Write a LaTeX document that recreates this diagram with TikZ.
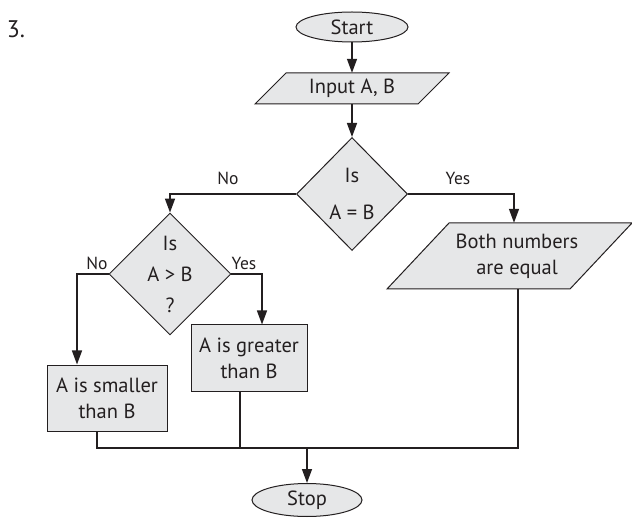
\documentclass[tikz,border=0pt]{standalone}
\usepackage{fontspec}
\setmainfont{PT Sans}
\usetikzlibrary{shapes.geometric,arrows.meta,calc,backgrounds}
\definecolor{boxfill}{HTML}{E6E7E8}
\definecolor{ink}{HTML}{231F20}
\tikzset{
  base/.style={draw=ink, fill=boxfill, line width=1pt, inner sep=0pt, text=ink,
    font=\fontsize{20.5}{26}\selectfont, align=center},
  term/.style={base, ellipse, minimum width=112pt, minimum height=30pt},
  proc/.style={base, rectangle, minimum height=66pt},
  decide/.style={base, diamond, minimum width=111pt, minimum height=113pt},
  iotext/.style={inner sep=0pt, text=ink, font=\fontsize{20.5}{26}\selectfont, align=center},
  ioshape/.style={draw=ink, fill=boxfill, line width=1pt},
  conn/.style={draw=ink, line width=1.4pt},
  arr/.style={conn, -{Triangle[length=14pt,width=10pt]}},
  lbl/.style={font=\fontsize{17.5}{20}\selectfont, text=ink, inner sep=0pt}
}
\begin{document}
\begin{tikzpicture}[x=1pt,y=-1pt]
\useasboundingbox (0,0) rectangle (632,521);
\node[font=\fontsize{24}{28}\selectfont, text=ink] (num) at (16,29) {3.};
\node[term] (start) at (352,27) {Start};
\node[iotext, minimum width=163pt, minimum height=31pt] (input) at (352,88.5) {Input A, B};
\node[iotext, minimum width=150pt, minimum height=66pt] (both) at (517,256) {Both numbers\\are equal};
\begin{scope}[on background layer]
  \draw[ioshape] ($(input)+(-97,15.5)$) -- ($(input)+(66,15.5)$) -- ($(input)+(97,-15.5)$)
     -- ($(input)+(-66,-15.5)$) -- cycle;
  \draw[ioshape] ($(both)+(-130,33)$) -- ($(both)+(53,33)$) -- ($(both)+(115,-33)$)
     -- ($(both)+(-68,-33)$) -- cycle;
\end{scope}
\node[decide] (d1) at (352,194) {Is\\[11pt]A = B};
\node[decide, minimum width=113pt] (d2) at (170,274) {Is\\[5pt]A > B\\[5pt]?};
\node[proc, minimum width=116pt] (great) at (249,358) {A is greater\\than B};
\node[proc, minimum width=120pt] (small) at (107,398) {A is smaller\\than B};
\node[term, minimum width=110pt, minimum height=33pt] (stop) at (307,500) {Stop};
\coordinate (j) at (307,448);

\draw[arr] (start) -- (input.north);
\draw[arr] (input.south) -- (d1);
\draw[arr] (d1.west) -| (d2.north);
\draw[arr] (d1.east) -| ([xshift=-3pt]both.north);
\draw[arr] (d2.west) -| ([xshift=-30pt]small.north);
\draw[arr] (d2.east) -| ([xshift=13pt]great.north);
\draw[conn] ([xshift=-10pt]small.south) |- (j) -| ([xshift=1pt]both.south);
\draw[conn] ([xshift=-9pt]great.south) -- ([xshift=-9pt]great.south |- j);
\draw[arr] (j) -- (stop);

\node[lbl] (lno1) at (228,178) {No};
\node[lbl] (lyes1) at (458,178) {Yes};
\node[lbl] (lno2) at (97,263) {No};
\node[lbl] (lyes2) at (244,263) {Yes};
\end{tikzpicture}
\end{document}
